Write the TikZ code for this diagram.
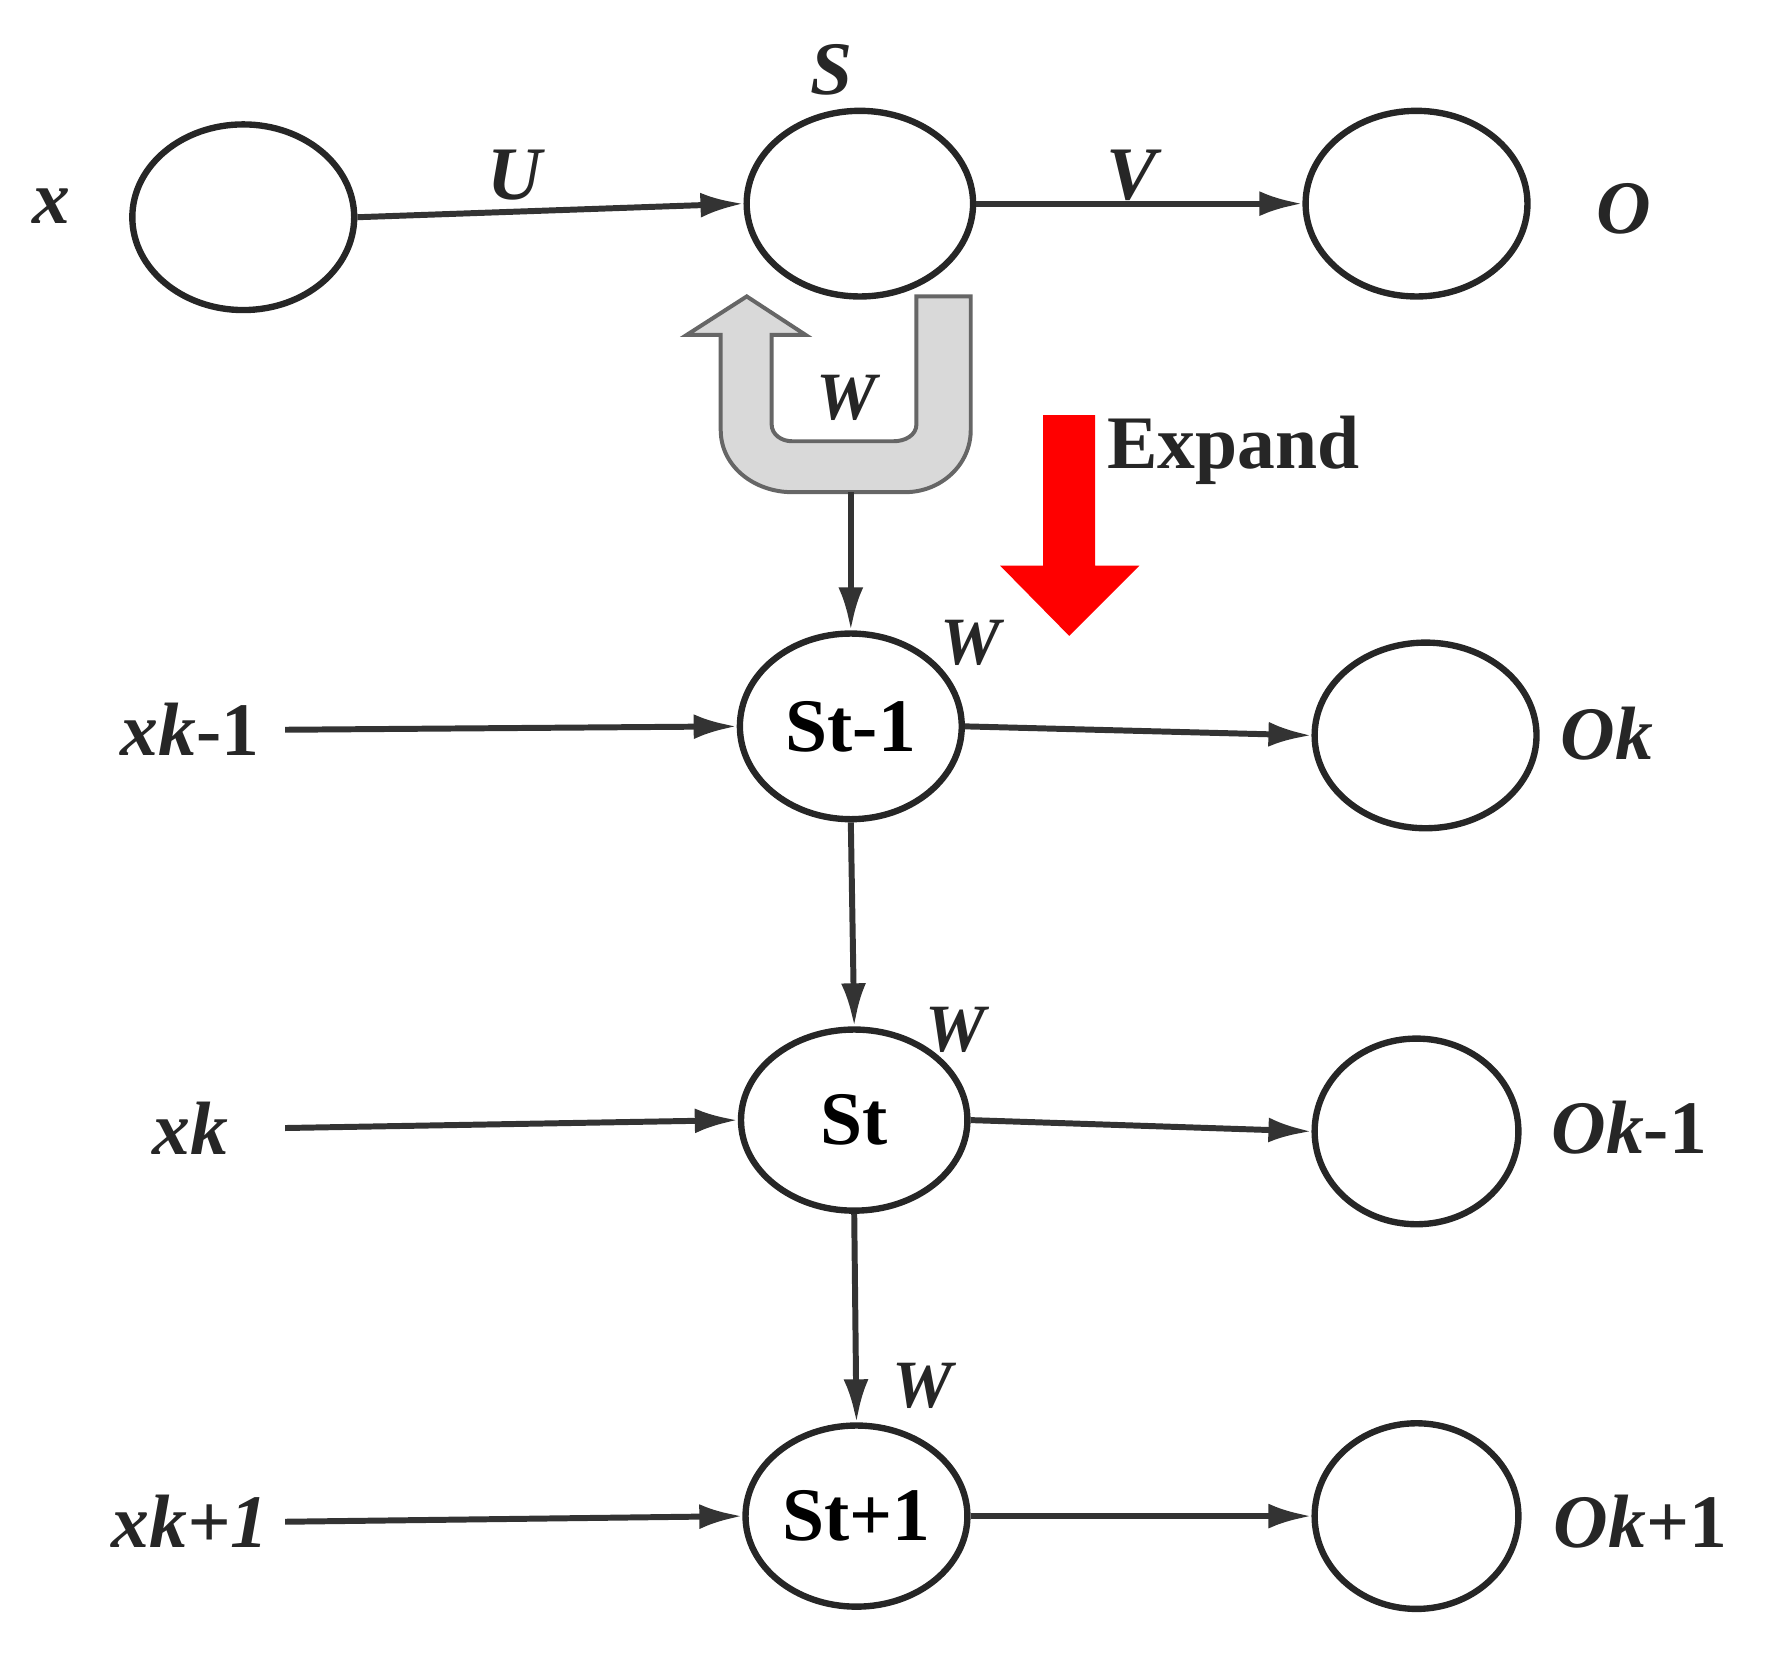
\documentclass[tikz,border=0pt]{standalone}
\usepackage{fontspec}
\setmainfont{Liberation Serif}
\usetikzlibrary{arrows.meta,shapes.geometric}
\begin{document}
\begin{tikzpicture}[x=0.01cm,y=-0.01cm,
  nd/.style={draw=black!85,line width=1.6pt,ellipse,inner sep=0pt},
  lab/.style={font=\fontsize{19}{22}\selectfont\bfseries\itshape,text=black!85},
  wl/.style={font=\fontsize{17}{20}\selectfont\bfseries\itshape,text=black!85},
  ar/.style={draw=black!80,line width=1.5pt,-{Latex[length=0.38cm,width=0.22cm]}}]
\useasboundingbox (0,0) rectangle (1560,1482);
% top row
\node[nd,minimum width=1.96cm,minimum height=1.64cm] (x0) at (215,192) {};
\node[nd,minimum width=2.0cm,minimum height=1.64cm] (s0) at (760,180) {};
\node[nd,minimum width=1.96cm,minimum height=1.64cm] (o0) at (1252,180) {};
\node[lab] (lx) at (45,182) {x};
\node[lab] (lu) at (455,155) {U};
\node[lab] (ls) at (735,62) {S};
\node[lab] (lv) at (1000,155) {V};
\node[lab] (lo) at (1435,185) {O};
\draw[ar] (x0.east) -- (s0.west);
\draw[ar] (s0.east) -- (o0.west);
% U-turn arrow
\draw[draw=black!60,fill=black!15,line width=1pt]
 (810,262) -- (858,262) -- (858,380) to[out=-90,in=0] (800,435) -- (700,435)
 to[out=180,in=-90] (637,380) -- (637,296) -- (607,296) -- (660,262) -- (712,296)
 -- (682,296) -- (682,375) to[out=-90,in=180] (700,390) -- (790,390)
 to[out=0,in=-90] (810,375) -- cycle;
\node[wl] (w0) at (748,352) {W};
\coordinate (ub) at (752,435);
% Expand arrow
\fill[red] (922,367) -- (968,367) -- (968,500) -- (1007,500) -- (945,562) -- (884,500) -- (922,500) -- cycle;
\node[font=\fontsize{19}{22}\selectfont\bfseries,text=black!85] (ex) at (1090,398) {Expand};
% rows
\node[nd,minimum width=1.96cm,minimum height=1.64cm,font=\fontsize{19}{22}\selectfont\bfseries] (s1) at (752,642) {St-1};
\node[nd,minimum width=1.96cm,minimum height=1.64cm] (o1) at (1260,650) {};
\node[nd,minimum width=2.0cm,minimum height=1.6cm,font=\fontsize{19}{22}\selectfont\bfseries] (s2) at (755,990) {St};
\node[nd,minimum width=1.8cm,minimum height=1.64cm] (o2) at (1252,1000) {};
\node[nd,minimum width=1.96cm,minimum height=1.6cm,font=\fontsize{19}{22}\selectfont\bfseries] (s3) at (757,1340) {St+1};
\node[nd,minimum width=1.8cm,minimum height=1.64cm] (o3) at (1252,1340) {};
\node[lab] (l1) at (168,645) {xk\upshape-1};
\node[lab] (l2) at (168,997) {xk};
\node[lab] (l3) at (168,1345) {xk+1};
\node[lab] (r1) at (1420,648) {Ok};
\node[lab] (r2) at (1440,997) {Ok\upshape-1};
\node[lab] (r3) at (1450,1345) {Ok\upshape+1};
\node[wl] (w1) at (858,568) {W};
\node[wl] (w2) at (845,910) {W};
\node[wl] (w3) at (815,1225) {W};
\coordinate (a1) at (252,645);
\coordinate (a2) at (252,997);
\coordinate (a3) at (252,1345);
\draw[ar] (a1) -- (s1.west);
\draw[ar] (a2) -- (s2.west);
\draw[ar] (a3) -- (s3.west);
\draw[ar] (s1.east) -- (o1.west);
\draw[ar] (s2.east) -- (o2.west);
\draw[ar] (s3.east) -- (o3.west);
\draw[ar] (ub) -- (s1.north);
\draw[ar] (s1.south) -- (s2.north);
\draw[ar] (s2.south) -- (s3.north);
\end{tikzpicture}
\end{document}
